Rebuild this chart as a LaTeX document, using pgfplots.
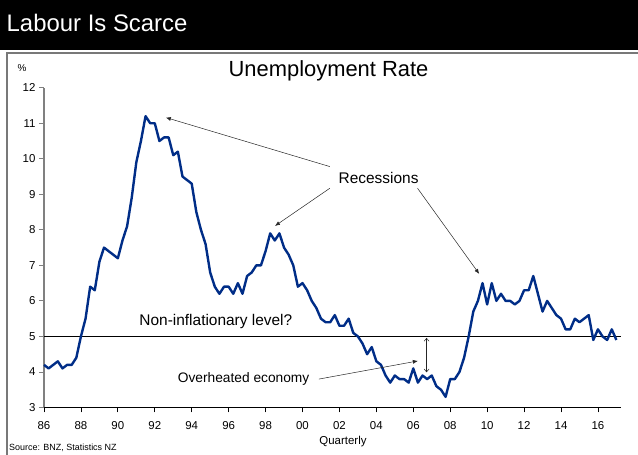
\documentclass[border=0pt]{standalone}
\usepackage{fontspec}
\setmainfont{Liberation Sans}
\usepackage{pgfplots}
\pgfplotsset{compat=1.18}
\usepackage{pgfplotstable}
\usetikzlibrary{arrows.meta}
\definecolor{navyline}{RGB}{0,45,135}
\definecolor{framegray}{RGB}{120,120,120}

\pgfplotstableread{
yr val
86.00 4.2
86.25 4.1
86.50 4.2
86.75 4.3
87.00 4.1
87.25 4.2
87.50 4.2
87.75 4.4
88.00 5.0
88.25 5.5
88.50 6.4
88.75 6.3
89.00 7.1
89.25 7.5
89.50 7.4
89.75 7.3
90.00 7.2
90.25 7.7
90.50 8.1
90.75 8.9
91.00 9.9
91.25 10.5
91.50 11.2
91.75 11.0
92.00 11.0
92.25 10.5
92.50 10.6
92.75 10.6
93.00 10.1
93.25 10.2
93.50 9.5
93.75 9.4
94.00 9.3
94.25 8.5
94.50 8.0
94.75 7.6
95.00 6.8
95.25 6.4
95.50 6.2
95.75 6.4
96.00 6.4
96.25 6.2
96.50 6.5
96.75 6.2
97.00 6.7
97.25 6.8
97.50 7.0
97.75 7.0
98.00 7.4
98.25 7.9
98.50 7.7
98.75 7.9
99.00 7.5
99.25 7.3
99.50 7.0
99.75 6.4
100.00 6.5
100.25 6.3
100.50 6.0
100.75 5.8
101.00 5.5
101.25 5.4
101.50 5.4
101.75 5.6
102.00 5.3
102.25 5.3
102.50 5.5
102.75 5.1
103.00 5.0
103.25 4.8
103.50 4.5
103.75 4.7
104.00 4.3
104.25 4.2
104.50 3.9
104.75 3.7
105.00 3.9
105.25 3.8
105.50 3.8
105.75 3.7
106.00 4.1
106.25 3.7
106.50 3.9
106.75 3.8
107.00 3.9
107.25 3.6
107.50 3.5
107.75 3.3
108.00 3.8
108.25 3.8
108.50 4.0
108.75 4.4
109.00 5.0
109.25 5.7
109.50 6.0
109.75 6.5
110.00 5.9
110.25 6.5
110.50 6.0
110.75 6.2
111.00 6.0
111.25 6.0
111.50 5.9
111.75 6.0
112.00 6.3
112.25 6.3
112.50 6.7
112.75 6.2
113.00 5.7
113.25 6.0
113.50 5.8
113.75 5.6
114.00 5.5
114.25 5.2
114.50 5.2
114.75 5.5
115.00 5.4
115.25 5.5
115.50 5.6
115.75 4.9
116.00 5.2
116.25 5.0
116.50 4.9
116.75 5.2
117.00 4.9
}\unemp

\begin{document}
\begin{tikzpicture}[x=1bp,y=1bp]
\begin{axis}[
  name=ax,
  scale only axis, width=577bp, height=319.8bp,
  xmin=86, xmax=117.25, ymin=3, ymax=12,
  axis x line=bottom, axis y line=left,
  x axis line style={-, black, line width=0.9bp},
  y axis line style={-, gray, line width=1.2bp},
  tick align=outside, major tick length=5bp,
  xtick={86,88,...,116},
  xticklabels={86,88,90,92,94,96,98,00,02,04,06,08,10,12,14,16},
  ytick={3,4,...,12},
  x tick style={black, line width=0.8bp},
  y tick style={gray, line width=0.8bp},
  tick label style={font=\fontsize{11.5}{12}\selectfont},
  xticklabel style={anchor=base, yshift=-17.5bp},
  /pgf/number format/assume math mode=true,
  clip=false,
]
\draw[black, line width=1.6bp] (axis cs:86,5) -- (axis cs:117.25,5);
\addplot[navyline, line width=2.4bp, line join=round, mark=none] table[x=yr, y=val] {\unemp};

% annotations
\draw[-{Latex[length=5bp,width=4bp]}, line width=0.5bp, black!85] (axis cs:101.48,9.78) -- (axis cs:92.6,11.16);
\draw[-{Latex[length=5bp,width=4bp]}, line width=0.5bp, black!85] (axis cs:101.48,9.17) -- (axis cs:98.51,8.11);
\draw[-{Latex[length=5bp,width=4bp]}, line width=0.5bp, black!85] (axis cs:106.23,9.17) -- (axis cs:109.57,6.76);
\node[anchor=base, inner sep=0, font=\fontsize{15.5}{16}\selectfont] at (axis cs:104.12,9.31) {Recessions};
\node[anchor=base west, inner sep=0, font=\fontsize{15.5}{16}\selectfont] at (axis cs:91.16,5.32) {Non-inflationary level?};
\node[anchor=base west, inner sep=0, font=\fontsize{13.8}{14}\selectfont] at (axis cs:93.24,3.69) {Overheated economy};
\draw[-{Latex[length=5bp,width=4bp]}, line width=0.5bp, black!85] (axis cs:100.89,3.80) -- (axis cs:106.25,4.31);
\draw[{Straight Barb[length=3bp,width=5bp]}-{Straight Barb[length=3bp,width=5bp]}, line width=0.5bp, black!85] (axis cs:106.72,4.96) -- (axis cs:106.72,3.99);
\coordinate (O) at (rel axis cs:0,0);
\end{axis}

\pgfresetboundingbox
\path (O) ++(-44,-47.5) coordinate (BL);
\useasboundingbox (BL) rectangle ++(638,455);
\begin{scope}[shift={(BL)}]
% title bar
\fill[black] (0,455) rectangle (638,404.5);
\node[white, anchor=base west, inner sep=0, font=\fontsize{24}{24}\selectfont] at (6.5,423) {Labour Is Scarce};
% frame
\draw[framegray, line width=1.5bp] (7,-5) -- (7,401.8) -- (645,401.8);
\node[anchor=base, inner sep=0, font=\fontsize{22}{22}\selectfont] at (328.5,378) {Unemployment Rate};
\node[anchor=center, inner sep=0, font=\fontsize{10}{10}\selectfont] at (22,387) {\%};
\node[anchor=base, inner sep=0, font=\fontsize{11.5}{12}\selectfont] at (343,10) {Quarterly};
\node[anchor=base west, inner sep=0, font=\fontsize{9}{9}\selectfont] at (9,4) {Source: BNZ, Statistics NZ};
\end{scope}
\end{tikzpicture}
\end{document}
